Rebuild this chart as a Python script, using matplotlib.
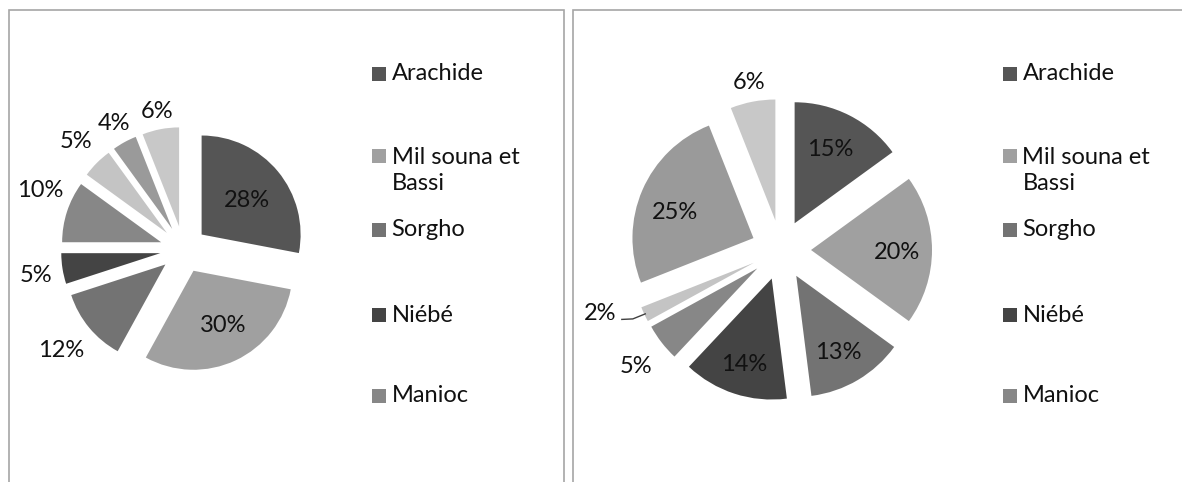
import numpy as np
import matplotlib.pyplot as plt
from matplotlib.patches import Rectangle

plt.rcParams['font.family'] = ['Lato', 'DejaVu Sans']

W, H = 1182, 482

# cultures affichées dans la légende
categories = ['Arachide', 'Mil souna et\nBassi', 'Sorgho', 'Niébé', 'Manioc']

# parts (%) de chaque secteur, dans le sens horaire à partir du haut
parts_gauche = [28, 30, 12, 5, 10, 5, 4, 6]
parts_droite = [15, 20, 13, 14, 5, 2, 25, 6]

couleurs = ['#555555', '#a0a0a0', '#737373', '#444444',
            '#878787', '#c4c4c4', '#9a9a9a', '#c8c8c8']

# position des étiquettes : (distance / rayon, décalage angulaire en degrés)
etiq_gauche = [(0.57, -3), (0.63, 3), (1.37, 0), (1.27, 1),
               (1.33, -5), (1.30, 0), (1.22, 0), (1.18, 0)]
etiq_droite = [(0.68, 1), (0.71, -2), (0.72, -2), (0.75, 0),
               (1.29, 1), (1.34, -7), (0.68, 5), (1.16, 0)]


def camembert(ax, parts, centre, rayon, ecart, etiq):
    secteurs, _ = ax.pie(parts, colors=couleurs, startangle=90, counterclock=False,
                         center=centre, radius=rayon, explode=[ecart] * len(parts),
                         wedgeprops=dict(linewidth=0))
    pos = []
    for s, v, (d, da) in zip(secteurs, parts, etiq):
        a = np.deg2rad((s.theta1 + s.theta2) / 2 + da)
        cx, cy = s.center
        x, y = cx + d * rayon * np.cos(a), cy + d * rayon * np.sin(a)
        ax.text(x, y, f'{v}%', ha='center', va='center', fontsize=17, color='#111111')
        pos.append((x, y))
    return secteurs, pos


def legende(ax, x0, rangs):
    for nom, coul, y in zip(categories, couleurs, rangs):
        ax.add_patch(Rectangle((x0, y - 7), 14, 14, color=coul, lw=0))
        n = nom.count('\n')
        ax.text(x0 + 20, y - n * 14.5, nom, ha='left', va='center',
                fontsize=17, linespacing=1.25, color='#111111')


fig = plt.figure(figsize=(W / 100, H / 100), dpi=100)
ax = fig.add_axes([0, 0, 1, 1])

# cadres des deux graphiques
ax.add_patch(Rectangle((8.5, -20), 555.5, 492, fill=False, edgecolor='#a6a6a6', lw=1.2))
ax.add_patch(Rectangle((572.5, -20), 700, 492, fill=False, edgecolor='#a6a6a6', lw=1.2))

camembert(ax, parts_gauche, (183.5, 232.5), 99, 23.5, etiq_gauche)
secteurs, pos = camembert(ax, parts_droite, (781, 232), 121, 30, etiq_droite)

# trait de rappel pour la petite part (2 %)
s = secteurs[5]
a = np.deg2rad((s.theta1 + s.theta2) / 2)
bord = (s.center[0] + (s.r - 1) * np.cos(a), s.center[1] + (s.r - 1) * np.sin(a))
lx, ly = pos[5]
ax.plot([lx + 22, lx + 33, bord[0]], [ly - 6, ly - 5.5, bord[1]], color='#404040', lw=1)

rangs = [408, 326, 252, 167, 86]
legende(ax, 371.5, rangs)
legende(ax, 1002.5, rangs)

ax.set_xlim(0, W)
ax.set_ylim(0, H)
ax.set_aspect('equal')
ax.axis('off')

fig.savefig('out.png', dpi=100)
